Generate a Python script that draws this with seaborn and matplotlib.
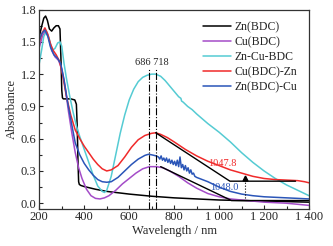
import pandas as pd
import matplotlib
matplotlib.use("Agg")
import matplotlib.pyplot as plt
import seaborn as sns

# spectra (wavelength in nm, absorbance)
zn_wl = [200, 210, 220, 228, 236, 245, 255, 265, 275, 285, 292, 297, 300, 303, 307, 315, 340, 358, 365,
         369, 372, 375, 378, 385, 400, 450, 500, 600, 700, 800, 900, 1000, 1100, 1200, 1300, 1400]
zn_ab = [1.55, 1.64, 1.72, 1.74, 1.70, 1.62, 1.60, 1.63, 1.65, 1.65, 1.62, 1.30, 1.05, 0.98, 0.97, 0.97, 0.97,
         0.96, 0.92, 0.70, 0.40, 0.20, 0.175, 0.165, 0.155, 0.13, 0.11, 0.085, 0.065, 0.05, 0.04, 0.03, 0.025,
         0.02, 0.015, 0.01]

cu_wl = [200, 215, 228, 240, 255, 270, 285, 300, 315, 330, 345, 360, 375, 390, 410, 430, 450, 470, 490, 510,
         540, 570, 600, 630, 660, 690, 720, 750, 780, 820, 860, 900, 950, 1000, 1050, 1100, 1200, 1300, 1400]
cu_ab = [1.45, 1.56, 1.60, 1.55, 1.42, 1.36, 1.33, 1.25, 1.08, 0.85, 0.65, 0.47, 0.33, 0.23, 0.13, 0.07, 0.045,
         0.04, 0.05, 0.07, 0.12, 0.18, 0.23, 0.28, 0.32, 0.34, 0.34, 0.33, 0.30, 0.25, 0.19, 0.14, 0.09, 0.06,
         0.04, 0.03, 0.01, 0.0, -0.02]

zncu_wl = [200, 210, 220, 232, 245, 258, 270, 282, 292, 300, 310, 320, 335, 350, 365, 380, 400, 420, 440, 460,
           480, 490, 500, 520, 540, 560, 580, 600, 620, 640, 660, 680, 700, 718, 740, 760, 780, 800, 820, 830,
           833, 840, 860, 880, 900, 950, 1000, 1050, 1100, 1150, 1200, 1250, 1300, 1350, 1400]
zncu_ab = [1.30, 1.42, 1.55, 1.60, 1.52, 1.42, 1.44, 1.49, 1.50, 1.46, 1.30, 1.17, 1.00, 0.85, 0.72, 0.62, 0.50,
           0.38, 0.26, 0.16, 0.11, 0.10, 0.12, 0.25, 0.45, 0.65, 0.82, 0.96, 1.06, 1.13, 1.17, 1.19, 1.20, 1.20,
           1.18, 1.14, 1.09, 1.04, 0.99, 0.975, 0.95, 0.94, 0.90, 0.87, 0.83, 0.74, 0.66, 0.57, 0.47, 0.38, 0.30,
           0.23, 0.17, 0.12, 0.07]

cuzn_wl = [200, 212, 225, 238, 250, 262, 275, 290, 305, 320, 340, 360, 380, 400, 420, 440, 460, 480, 500, 520,
           550, 580, 610, 640, 670, 700, 718, 740, 770, 800, 850, 900, 950, 1000, 1050, 1100, 1150, 1200, 1250,
           1300, 1350, 1380, 1400]
cuzn_ab = [1.50, 1.58, 1.63, 1.57, 1.48, 1.42, 1.38, 1.32, 1.18, 1.00, 0.82, 0.68, 0.60, 0.53, 0.47, 0.41, 0.36,
           0.32, 0.30, 0.31, 0.35, 0.43, 0.52, 0.59, 0.63, 0.65, 0.655, 0.64, 0.61, 0.57, 0.50, 0.44, 0.39, 0.35,
           0.31, 0.28, 0.25, 0.23, 0.22, 0.215, 0.21, 0.20, 0.19]

zncu2_wl = [200, 212, 225, 238, 250, 265, 280, 295, 310, 325, 340, 360, 380, 400, 420, 440, 460, 480, 500, 520,
            550, 580, 610, 640, 670, 686, 700, 720, 730, 736, 742, 748, 754, 760, 766, 772, 778, 784, 790, 796,
            802, 808, 814, 820, 826, 832, 838, 844, 850, 856, 862, 868, 874, 880, 886, 892, 900, 950, 1000, 1050,
            1100, 1150, 1200, 1250, 1300, 1350, 1400]
zncu2_ab = [1.52, 1.58, 1.61, 1.55, 1.45, 1.38, 1.35, 1.30, 1.15, 0.95, 0.78, 0.56, 0.45, 0.37, 0.31, 0.26, 0.22,
            0.20, 0.195, 0.20, 0.24, 0.30, 0.36, 0.41, 0.445, 0.455, 0.45, 0.44, 0.43, 0.41, 0.44, 0.40, 0.42,
            0.39, 0.42, 0.38, 0.41, 0.37, 0.40, 0.36, 0.39, 0.35, 0.40, 0.34, 0.43, 0.33, 0.36, 0.31, 0.35, 0.30,
            0.33, 0.28, 0.31, 0.27, 0.28, 0.25, 0.24, 0.20, 0.15, 0.11, 0.085, 0.07, 0.06, 0.055, 0.05, 0.045, 0.04]

names = ["Zn(BDC)", "Cu(BDC)", "Zn-Cu-BDC", "Cu(BDC)-Zn", "Zn(BDC)-Cu"]
colors = ["#000000", "#a44cc8", "#55cbd3", "#f02a2a", "#2a55b8"]

# tangent extrapolations and their baselines
red_tan_x = [718, 1048, 1340]
red_tan_y = [0.655, 0.205, 0.205]
blue_tan_x = [740, 1055, 1400]
blue_tan_y = [0.34, 0.025, 0.025]
peaks = [686, 718]

frames = []
for n, wl, ab in zip(names, [zn_wl, cu_wl, zncu_wl, cuzn_wl, zncu2_wl],
                     [zn_ab, cu_ab, zncu_ab, cuzn_ab, zncu2_ab]):
    frames.append(pd.DataFrame({"wl": wl, "ab": ab, "sample": n}))
df = pd.concat(frames, ignore_index=True)

sns.set_style("ticks")
plt.rcParams["font.family"] = ["Liberation Serif", "DejaVu Serif"]
plt.rcParams["xtick.direction"] = "in"
plt.rcParams["ytick.direction"] = "in"

fig = plt.figure(figsize=(3.33, 2.46), dpi=100)
ax = fig.add_axes([0.118, 0.152, 0.81, 0.809])

sns.lineplot(data=df, x="wl", y="ab", hue="sample", hue_order=names,
             palette=dict(zip(names, colors)), estimator=None, sort=False, lw=1.1, ax=ax)

ax.plot(red_tan_x, red_tan_y, color="black", lw=1.0)
ax.plot(blue_tan_x, blue_tan_y, color="black", lw=1.0)
for p in peaks:
    ax.plot([p, p], [-0.05, 1.26], color="black", lw=0.8, ls="-.")
ax.plot([1115, 1115], [0.05, 0.21], color="black", lw=0.8, ls=":")
ax.plot([1115], [0.235], marker="^", color="black", ms=3.5)

ax.text(700, 1.27, "686 718", fontsize=7.5, ha="center", va="bottom")
ax.text(1013, 0.37, "1047.8", fontsize=7.5, ha="center", va="center", color="#f02a2a")
ax.text(1022, 0.15, "1048.0", fontsize=7.5, ha="center", va="center", color="#2a55b8")

ax.set_xlim(200, 1400)
ax.set_ylim(-0.05, 1.8)
ax.set_xticks([200, 400, 600, 800, 1000, 1200, 1400])
ax.set_xticklabels(["200", "400", "600", "800", "1 000", "1 200", "1 400"])
ax.set_xticks(range(300, 1400, 200), minor=True)
ax.set_yticks([0.0, 0.3, 0.6, 0.9, 1.2, 1.5, 1.8])
ax.set_yticks([0.15, 0.45, 0.75, 1.05, 1.35, 1.65], minor=True)
ax.tick_params(labelsize=9, length=3, width=0.8, pad=2)
ax.tick_params(which="minor", length=2, width=0.8)
for s in ax.spines.values():
    s.set_linewidth(0.9)
    s.set_color("#333333")
ax.set_xlabel("Wavelength / nm", fontsize=9, labelpad=1)
ax.set_ylabel("Absorbance", fontsize=9, labelpad=2)

leg = ax.legend(frameon=False, loc="upper right", fontsize=8.5, handlelength=2.4,
                labelspacing=0.25, borderaxespad=0.6, handletextpad=0.3)

fig.savefig("out.png", dpi=100)
